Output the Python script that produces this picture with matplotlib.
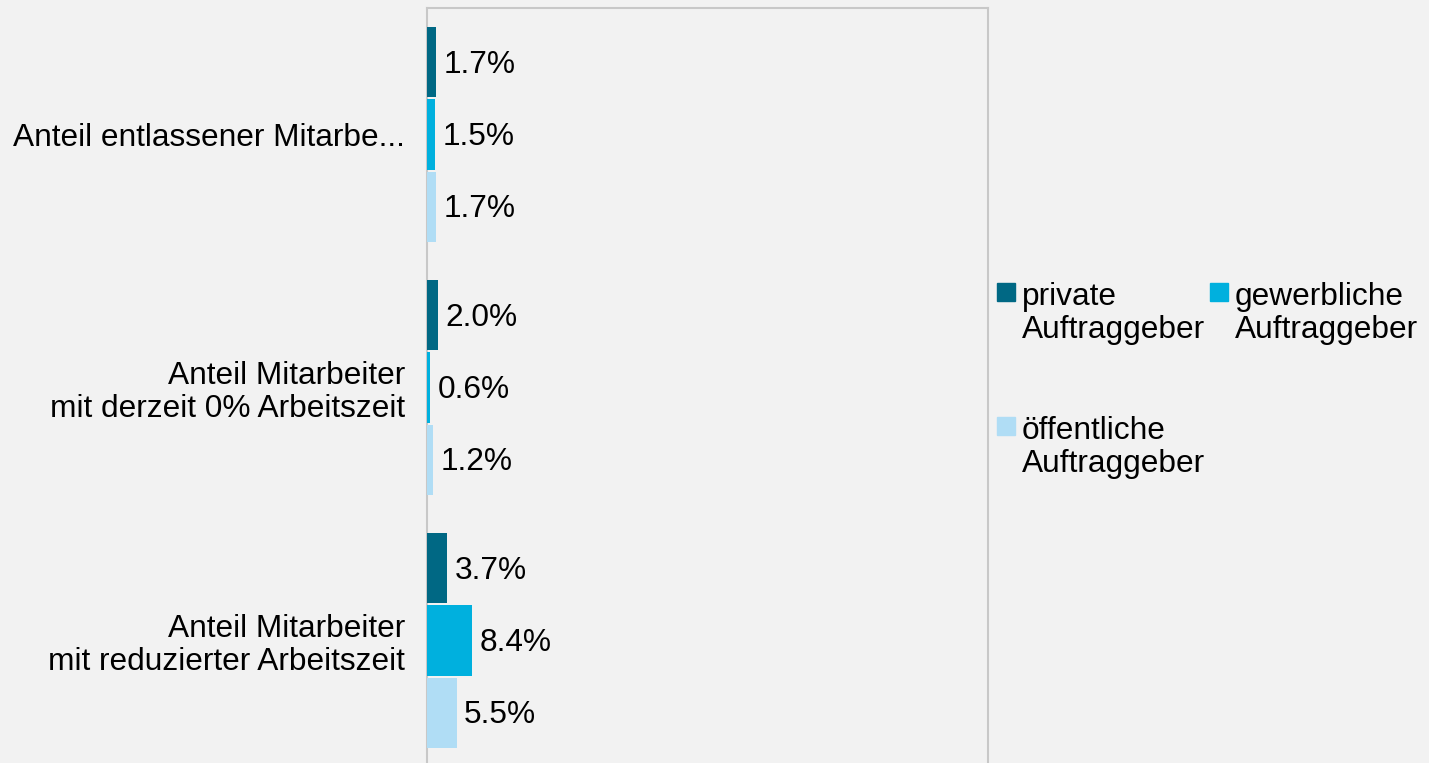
import matplotlib
matplotlib.use("Agg")
import matplotlib.pyplot as plt
import numpy as np
from matplotlib.patches import Rectangle

plt.rcParams['font.family'] = ['Liberation Sans', 'DejaVu Sans']

categories = ["Anteil entlassener Mitarbe...",
              "Anteil Mitarbeiter\nmit derzeit 0% Arbeitszeit",
              "Anteil Mitarbeiter\nmit reduzierter Arbeitszeit"]
series = ["private\nAuftraggeber", "gewerbliche\nAuftraggeber", "öffentliche\nAuftraggeber"]
private = [1.7, 2.0, 3.7]
gewerblich = [1.5, 0.6, 8.4]
oeffentlich = [1.7, 1.2, 5.5]
values = [private, gewerblich, oeffentlich]
colors = ['#006884', '#00b0de', '#b0ddf5']

bg = '#f2f2f2'
W, H = 1429, 763
fig = plt.figure(figsize=(W / 100, H / 100), dpi=100, facecolor=bg)
ax = fig.add_axes([427 / W, -4 / H, 561 / W, 759 / H], facecolor=bg)

fs = 22.8
y = np.arange(len(categories))
step = 0.285
height = 0.277
for k, (vals, c) in enumerate(zip(values, colors)):
    pos = y + (k - 1) * step
    ax.barh(pos, vals, height=height, color=c, zorder=3)
    for p, v in zip(pos, vals):
        ax.annotate(f"{v:.1f}%", (v, p), xytext=(5.5, -2), textcoords='offset points',
                    va='center', ha='left', fontsize=fs, color='black')

ax.set_xlim(0, 104.5)
ax.set_ylim(len(categories) - 0.5, -0.5)
ax.set_xticks([])
ax.set_yticks(y)
ax.set_yticklabels(categories, fontsize=fs, linespacing=1.15)
ax.tick_params(axis='y', length=0, pad=16)
for s in ['left', 'top', 'right']:
    ax.spines[s].set_color('#c8c8c8')
    ax.spines[s].set_linewidth(1.5)
ax.spines['bottom'].set_visible(False)

# legend drawn by hand: two columns, marker beside first line
leg_x = [997, 1210]
leg_y = [283, 417]
for i, (name, c) in enumerate(zip(series, colors)):
    col, row = i % 2, i // 2
    x0, y0 = leg_x[col], leg_y[row]
    fig.patches.append(Rectangle((x0 / W, 1 - (y0 + 18) / H), 18 / W, 18 / H,
                                 transform=fig.transFigure, color=c))
    fig.text((x0 + 25) / W, 1 - (y0 - 1) / H, name, fontsize=fs, va='top', ha='left',
             linespacing=1.15)

fig.savefig('out.png', dpi=100, facecolor=bg)
